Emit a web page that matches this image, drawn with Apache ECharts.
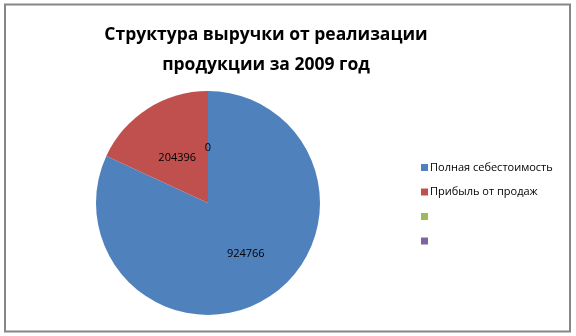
<!DOCTYPE html>
<html><head><meta charset="utf-8">
<script src="https://cdn.jsdelivr.net/npm/echarts@6/dist/echarts.min.js"></script>
<style>html,body{margin:0;padding:0;background:#fff}#c{width:576px;height:336px}</style>
</head><body><div id="c"></div>
<script>
const titleText = 'Структура выручки от реализации\nпродукции за 2009 год';
const categories = ['Полная себестоимость', 'Прибыль от продаж', ' ', '  '];
const values = [924766, 204396, 0, 0];
const colors = ['#4F81BD', '#C0504D', '#9BBB59', '#8064A2'];
const labelOffsets = [[6, 1], [1, 5], [0, 4], [0, 4]];

const chart = echarts.init(document.getElementById('c'), null, {renderer: 'canvas'});
chart.setOption({
  animation: false,
  color: colors,
  title: {
    text: titleText,
    left: 261, top: 15, textAlign: 'center',
    textStyle: {fontFamily: 'Open Sans', fontWeight: 'bold', fontSize: 17.5, color: '#000', lineHeight: 30}
  },
  graphic: [{
    type: 'rect', shape: {x: 5, y: 4.5, width: 565, height: 327},
    style: {fill: 'none', stroke: '#868686', lineWidth: 2}, silent: true
  }],
  legend: {
    orient: 'vertical', left: 416, top: 157,
    itemWidth: 7, itemHeight: 7, itemGap: 13.5,
    icon: 'rect',
    data: categories,
    textStyle: {fontFamily: 'Open Sans', fontSize: 11, color: '#000', padding: [0,0,0,-3]}
  },
  series: [{
    type: 'pie',
    center: [208, 203],
    radius: 112,
    startAngle: 90,
    clockwise: true,
    data: categories.map((n, i) => ({name: n, value: values[i], label: {offset: labelOffsets[i]}})),
    label: {show: true, position: 'inside', formatter: '{c}', fontFamily: 'Open Sans', fontSize: 11, color: '#000'},
    labelLine: {show: false},
    itemStyle: {borderWidth: 0},
    emphasis: {disabled: true}
  }]
});
</script></body></html>
